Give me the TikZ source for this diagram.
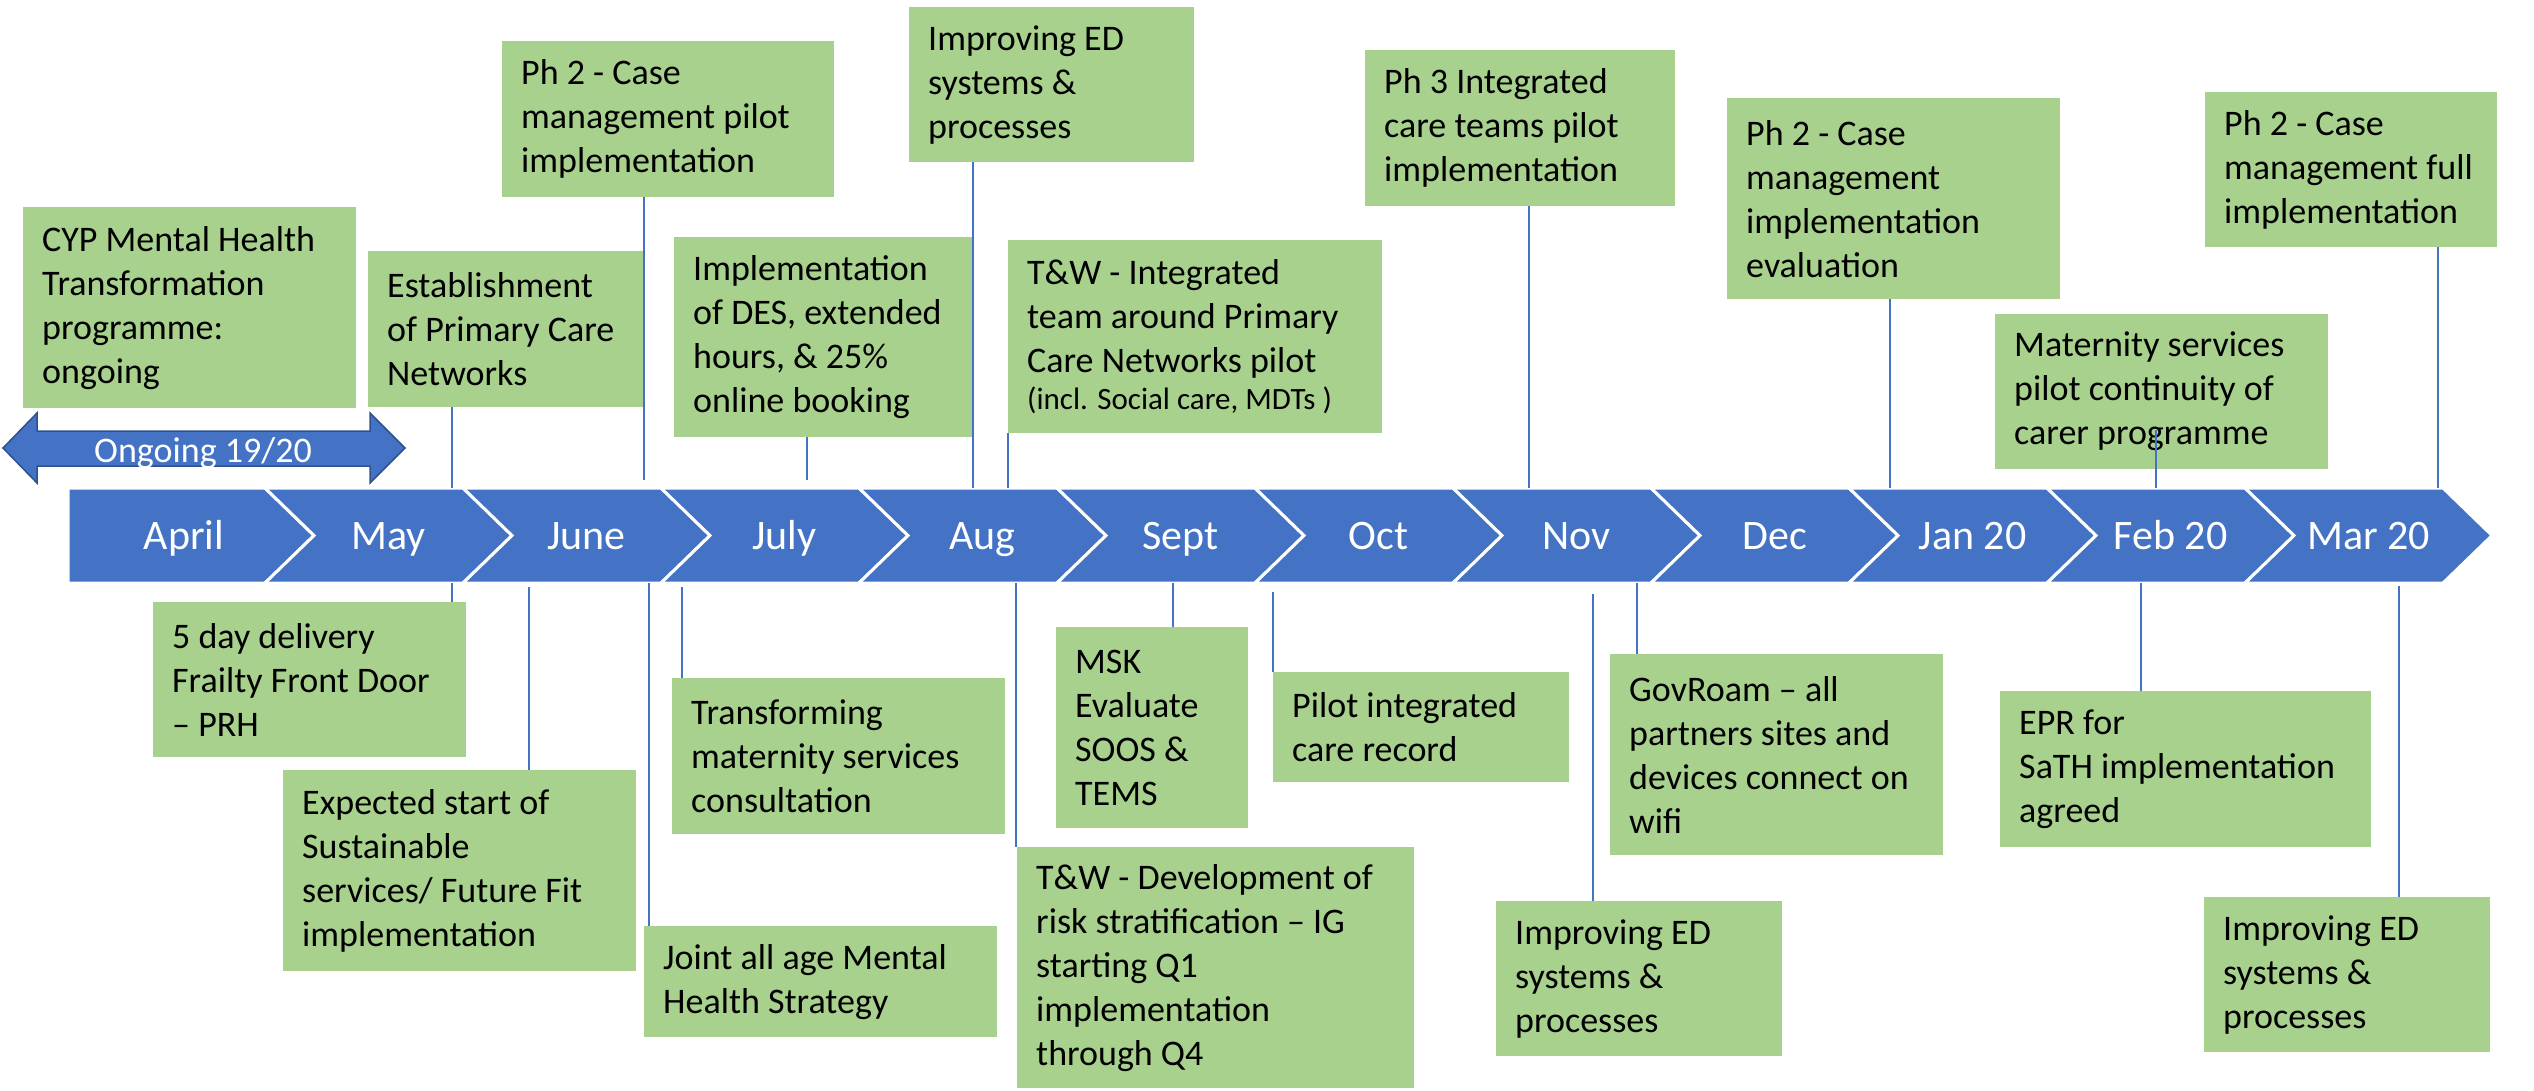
\documentclass[tikz,border=0pt]{standalone}
\usepackage{fontspec}
\setmainfont{Carlito}
\definecolor{gfill}{HTML}{A9D18E}
\definecolor{bfill}{HTML}{4472C4}
\definecolor{bdark}{HTML}{2F528F}
\newcommand{\gbx}[6]{\node[gbox, minimum width=#4pt, minimum height=#5pt] (#1) at (#2,#3) {};
  \node[gtxt] (#1t) at ([xshift=19pt]#1.west) {#6};}
\begin{document}
\begin{tikzpicture}[x=1pt,y=-1pt,
  gbox/.style={fill=gfill, anchor=north west, inner sep=0pt, draw=none},
  gtxt/.style={anchor=west, align=left, inner sep=0pt, font=\fontsize{36}{44}\selectfont, text=black},
  mlabel/.style={font=\fontsize{42}{50}\selectfont, text=white, inner sep=0pt, anchor=base},
  chev/.style={fill=bfill, draw=white, line width=3pt, line join=miter},
  conn/.style={draw=bfill, line width=1.6pt}]
\useasboundingbox[fill=white] (0,0) rectangle (2534,1090);

% timeline band
\path[chev] (68,488) -- (265,488) -- (314,535.5) -- (265,583) -- (68,583) -- cycle;
\node[mlabel] (m0) at (184,549) {April};
\foreach \i/\lab in {1/May,2/June,3/July,4/Aug,5/Sept,6/Oct,7/Nov,8/Dec,9/Jan 20,10/Feb 20,11/Mar 20}{
  \pgfmathsetmacro{\xl}{265+198*(\i-1)}
  \pgfmathsetmacro{\xc}{388.5+198*(\i-1)}
  \path[chev] (\xl,488) -- ++(198,0) -- ++(49,47.5) -- ++(-49,47.5) -- ++(-198,0) -- ++(49,-47.5) -- cycle;
  \node[mlabel] (m\i) at (\xc,549) {\lab};
}

% ongoing double arrow
\path[fill=bfill, draw=bdark, line width=1.5pt] (3,448) -- (37,413) -- (37,431) -- (370,431) -- (370,413)
  -- (405,448) -- (370,483) -- (370,466) -- (37,466) -- (37,483) -- cycle;
\node[font=\fontsize{36}{44}\selectfont, text=white, inner sep=0pt, anchor=base] (ongo) at (203,462) {Ongoing 19/20};

% top boxes
\gbx{cyp}{23}{207}{333}{201}{CYP Mental Health\\Transformation\\programme:\\ongoing}
\gbx{estab}{368}{251}{276}{156}{Establishment\\of Primary Care\\Networks}
\gbx{ph2p}{502}{41}{332}{156}{Ph 2 - Case\\management pilot\\implementation}
\gbx{des}{674}{237}{298}{200}{Implementation\\of DES, extended\\hours, \& 25\%\\online booking}
\gbx{edtop}{909}{7}{285}{155}{Improving ED\\systems \&\\processes}
\gbx{twint}{1008}{240}{374}{193}{T\&W - Integrated\\team around Primary\\Care Networks pilot\\[-7pt]{\fontsize{31}{38}\selectfont (incl. Social care, MDTs )}}
\gbx{ph3}{1365}{50}{310}{156}{Ph 3 Integrated\\care teams pilot\\implementation}
\gbx{ph2e}{1727}{98}{333}{201}{Ph 2 - Case\\management\\implementation\\evaluation}
\gbx{mat}{1995}{314}{333}{155}{Maternity services\\pilot continuity of\\carer programme}
\gbx{ph2f}{2205}{92}{292}{155}{Ph 2 - Case\\management full\\implementation}

% bottom boxes
\gbx{fiveday}{153}{602}{313}{155}{5 day delivery\\Frailty Front Door\\– PRH}
\gbx{expected}{283}{770}{353}{201}{Expected start of\\Sustainable\\services/ Future Fit\\implementation}
\gbx{transf}{672}{678}{333}{156}{Transforming\\maternity services\\consultation}
\gbx{joint}{644}{926}{353}{111}{Joint all age Mental\\Health Strategy}
\gbx{msk}{1056}{627}{192}{201}{MSK\\Evaluate\\SOOS \&\\TEMS}
\gbx{pilot}{1273}{672}{296}{110}{Pilot integrated\\care record}
\gbx{twdev}{1017}{847}{397}{241}{T\&W - Development of\\risk stratification – IG\\starting Q1\\implementation\\through Q4}
\gbx{edmid}{1496}{901}{286}{155}{Improving ED\\systems \&\\processes}
\gbx{gov}{1610}{654}{333}{201}{GovRoam – all\\partners sites and\\devices connect on\\wifi}
\gbx{epr}{2000}{691}{371}{156}{EPR for\\SaTH implementation\\agreed}
\gbx{edright}{2204}{897}{286}{155}{Improving ED\\systems \&\\processes}

% connectors above the band
\foreach \b/\xx/\yy in {estab/452/488, ph2p/644/480, des/807/480, edtop/973/488, twint/1008/488,
  ph3/1529/488, ph2e/1890/488, ph2f/2438/488}{
  \coordinate (k\b) at (\xx,\yy);
  \draw[conn] (\b.south -| k\b) -- (k\b);
}
\coordinate (kmat) at (2156,488);
\draw[conn] ([yshift=39pt]mat.south -| kmat) -- (kmat);

% connectors below the band
\foreach \b/\xx/\yy in {fiveday/452/583, expected/529/587, transf/682/587, joint/649/583, msk/1173/583,
  pilot/1273/592, twdev/1016/583, edmid/1593/594, gov/1637/583, epr/2141/583, edright/2399/586}{
  \coordinate (k\b) at (\xx,\yy);
  \draw[conn] (k\b) -- (\b.north -| k\b);
}
\end{tikzpicture}
\end{document}
